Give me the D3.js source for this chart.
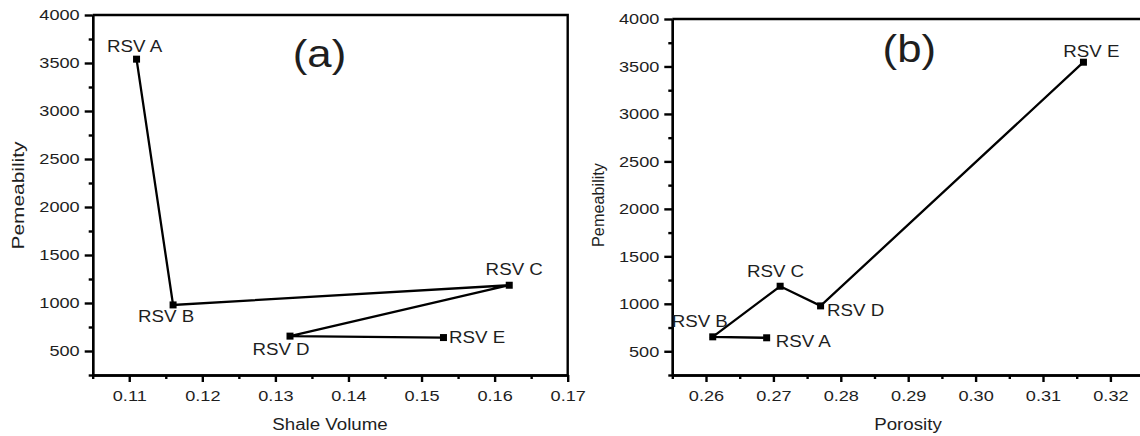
<!DOCTYPE html>
<html>
<head>
<meta charset="utf-8">
<script src="https://cdn.jsdelivr.net/npm/d3@7"></script>
<style>
  body { margin: 0; background: #fff; }
  svg text { font-family: "Liberation Sans", Arial, sans-serif; fill: #1e1e1e; }
  .axis path, .axis line { stroke: #000; stroke-width: 2.4; }
</style>
</head>
<body>
<svg width="1140" height="436"></svg>
<script>
// data
var reservoirs = ["RSV A", "RSV B", "RSV C", "RSV D", "RSV E"];
var shaleVolume = [0.111, 0.116, 0.162, 0.132, 0.153];
var permeabilityA = [3540, 980, 1185, 655, 640];
var porosity = [0.269, 0.261, 0.271, 0.277, 0.316];
var permeabilityB = [642, 652, 1185, 978, 3545];

// tick labels
var xTicksA = [0.11, 0.12, 0.13, 0.14, 0.15, 0.16, 0.17];
var xTicksB = [0.26, 0.27, 0.28, 0.29, 0.30, 0.31, 0.32];
var yTicks = [500, 1000, 1500, 2000, 2500, 3000, 3500, 4000];

(function () {
    var svg = d3.select("svg");
    var stretchK = 1.17; // the source picture is a bit wider than tall

    function stretch(sel, k) {
        sel.each(function () {
            var w = this.getComputedTextLength();
            d3.select(this).attr("textLength", w * k).attr("lengthAdjust", "spacingAndGlyphs");
        });
    }

    var panels = [
        {
            xVals: shaleVolume, yVals: permeabilityA, xTicks: xTicksA,
            xDomain: [0.105, 0.17], left: 92.7, right: 567.7, top: 15, bottom: 375,
            title: "(a)", titleX: 319.5, titleY: 67, xLabelX: 330,
            xLabel: "Shale Volume", yLabelX: 24, yLabelY: 195.5, yLabelLen: 108,
            // label placement: dx, dy, anchor
            offsets: [[-2, -7, "middle"], [-7, 17, "middle"], [5, -10, "middle"], [-9, 19, "middle"], [5.5, 5, "start"]]
        },
        {
            xVals: porosity, yVals: permeabilityB, xTicks: xTicksB,
            xDomain: [0.255, 0.325], left: 672.3, right: 1144.1, top: 19, bottom: 375,
            title: "(b)", titleX: 909.3, titleY: 62, xLabelX: 908,
            xLabel: "Porosity", yLabelX: 604, yLabelY: 205, yLabelLen: 84,
            offsets: [[9, 9, "start"], [-13, -10, "middle"], [-4.6, -9, "middle"], [6.5, 10, "start"], [8, -5.5, "middle"]]
        }
    ];

    panels.forEach(function (p) {
        var x = d3.scaleLinear().domain(p.xDomain).range([p.left, p.right]);
        var y = d3.scaleLinear().domain([250, 4000]).range([p.bottom, p.top]);

        // frame: top and right
        svg.append("path")
            .attr("d", "M" + p.left + "," + p.top + "H" + p.right + "V" + p.bottom)
            .attr("fill", "none").attr("stroke", "#000").attr("stroke-width", 2.4);

        // minor ticks
        svg.append("g").attr("class", "axis")
            .attr("transform", "translate(0," + p.bottom + ")")
            .call(d3.axisBottom(x).tickValues(p.xTicks.map(function (t) { return t - 0.005; }))
                .tickSize(4).tickSizeOuter(0).tickFormat(""));
        svg.append("g").attr("class", "axis")
            .attr("transform", "translate(" + p.left + ",0)")
            .call(d3.axisLeft(y).tickValues(yTicks.map(function (t) { return t - 250; }))
                .tickSize(4).tickSizeOuter(0).tickFormat(""));

        // major ticks
        var gx = svg.append("g").attr("class", "axis")
            .attr("transform", "translate(0," + p.bottom + ")")
            .call(d3.axisBottom(x).tickValues(p.xTicks).tickSize(7).tickPadding(8)
                .tickSizeOuter(0).tickFormat(d3.format(".2f")));
        var gy = svg.append("g").attr("class", "axis")
            .attr("transform", "translate(" + p.left + ",0)")
            .call(d3.axisLeft(y).tickValues(yTicks).tickSize(8).tickPadding(5)
                .tickSizeOuter(0).tickFormat(d3.format("d")));
        [gx, gy].forEach(function (g) {
            g.attr("font-family", null).attr("font-size", null);
            g.selectAll("text").attr("fill", null).style("font-size", "15.5px").call(stretch, stretchK);
        });

        // axis titles
        svg.append("text")
            .attr("x", p.xLabelX)
            .attr("y", 430)
            .attr("text-anchor", "middle")
            .style("font-size", "16px")
            .text(p.xLabel)
            .call(stretch, stretchK);
        svg.append("text")
            .attr("transform", "translate(" + p.yLabelX + "," + p.yLabelY + ") rotate(-90)")
            .attr("text-anchor", "middle")
            .style("font-size", "16px")
            .attr("textLength", p.yLabelLen)
            .attr("lengthAdjust", "spacingAndGlyphs")
            .text("Pemeability");

        // panel letter
        svg.append("text")
            .attr("x", p.titleX).attr("y", p.titleY)
            .attr("text-anchor", "middle")
            .style("font-size", "38px")
            .text(p.title)
            .call(stretch, 1.15);

        var idx = d3.range(reservoirs.length);

        var line = d3.line()
            .x(function (i) { return x(p.xVals[i]); })
            .y(function (i) { return y(p.yVals[i]); });

        svg.append("path")
            .datum(idx)
            .attr("d", line)
            .attr("fill", "none")
            .attr("stroke", "#000")
            .attr("stroke-width", 2.3);

        svg.selectAll(null)
            .data(idx)
            .enter().append("rect")
            .attr("x", function (i) { return x(p.xVals[i]) - 3.5; })
            .attr("y", function (i) { return y(p.yVals[i]) - 3.5; })
            .attr("width", 7)
            .attr("height", 7)
            .attr("fill", "#000");

        svg.selectAll(null)
            .data(idx)
            .enter().append("text")
            .attr("x", function (i) { return x(p.xVals[i]) + p.offsets[i][0]; })
            .attr("y", function (i) { return y(p.yVals[i]) + p.offsets[i][1]; })
            .attr("text-anchor", function (i) { return p.offsets[i][2]; })
            .style("font-size", "16px")
            .text(function (i) { return reservoirs[i]; })
            .call(stretch, stretchK);
    });
}());
</script>
</body>
</html>
